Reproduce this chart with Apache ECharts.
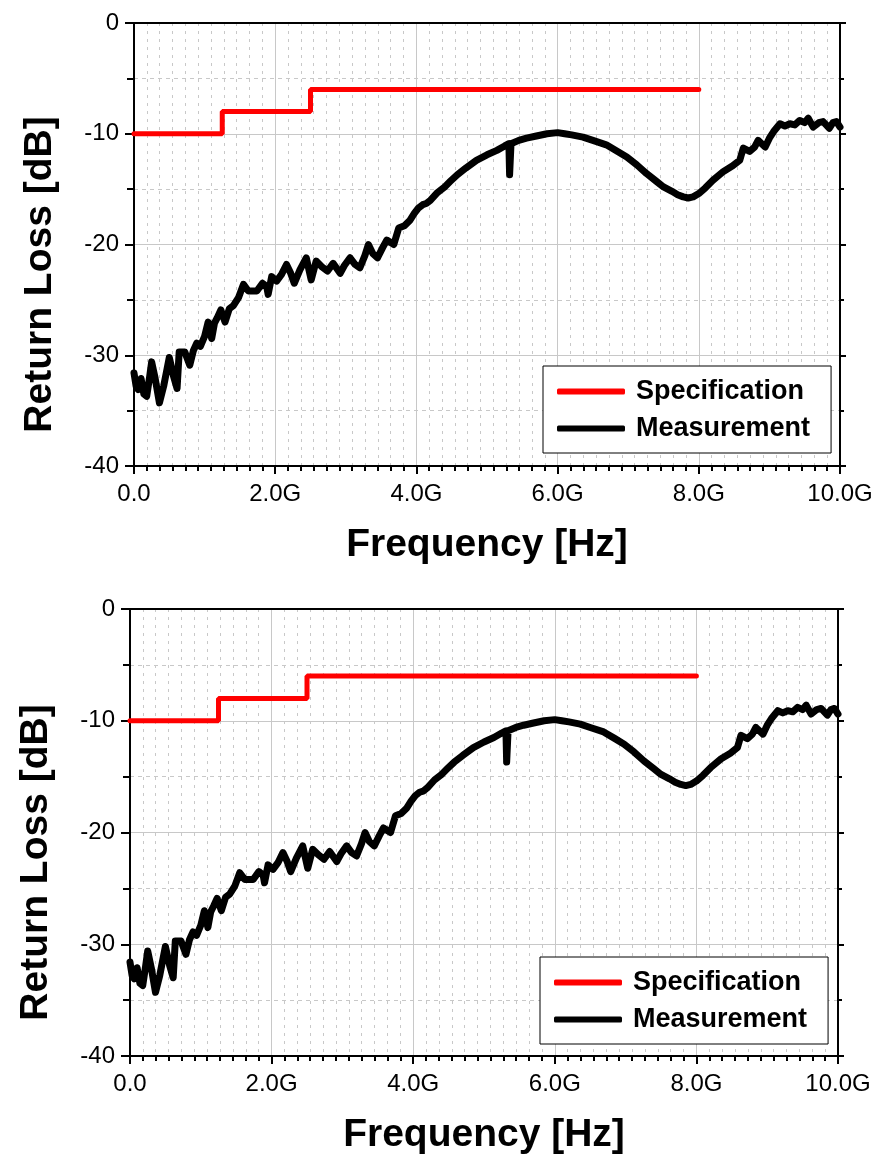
<!DOCTYPE html>
<html>
<head>
<meta charset="utf-8">
<script src="https://cdn.jsdelivr.net/npm/echarts@6/dist/echarts.min.js"></script>
<style>
  html, body { margin: 0; padding: 0; background: #fff; }
  #chart { width: 878px; height: 1156px; }
</style>
</head>
<body>
<div id="chart"></div>
<script>
// spec mask (GHz, dB)
const specFreq = [0, 1.25, 1.25, 2.5, 2.5, 8.0];
const specLevel = [-10, -10, -8, -8, -6, -6];

const measFreq = [
  0.00, 0.03, 0.06, 0.10, 0.14, 0.18, 0.22, 0.25, 0.30, 0.36,
  0.42, 0.46, 0.50, 0.56, 0.61, 0.64, 0.72, 0.79, 0.84, 0.89,
  0.94, 1.00, 1.05, 1.10, 1.14, 1.18, 1.23, 1.29, 1.35, 1.41,
  1.48, 1.55, 1.62, 1.74, 1.82, 1.88, 1.90, 1.95, 2.02, 2.09,
  2.16, 2.22, 2.27, 2.35, 2.44, 2.51, 2.58, 2.66, 2.74, 2.82,
  2.92, 2.98, 3.06, 3.13, 3.20, 3.27, 3.32, 3.38, 3.45, 3.52,
  3.58, 3.68, 3.75, 3.83, 3.91, 3.97, 4.03, 4.09, 4.14, 4.20,
  4.30, 4.40, 4.48, 4.58, 4.70, 4.85, 5.00, 5.14, 5.25, 5.31,
  5.32, 5.34, 5.45, 5.56, 5.70, 5.85, 6.00, 6.10, 6.20, 6.36,
  6.50, 6.69, 6.85, 6.98, 7.12, 7.26, 7.40, 7.50, 7.62, 7.70,
  7.78, 7.85, 7.92, 8.00, 8.09, 8.20, 8.35, 8.48, 8.58, 8.63,
  8.72, 8.79, 8.84, 8.94, 9.00, 9.06, 9.15, 9.22, 9.29, 9.36,
  9.43, 9.50, 9.55, 9.62, 9.70, 9.76, 9.85, 9.90, 9.95, 10.00
];
const measLoss = [
  -31.6, -32.8, -33.1, -32.1, -33.5, -33.7, -32.0, -30.6, -32.1, -34.3,
  -32.8, -31.5, -30.2, -31.9, -33.0, -29.7, -29.7, -30.9, -29.6, -28.9,
  -29.2, -28.3, -27.0, -28.5, -27.1, -26.6, -25.9, -27.0, -25.8, -25.5,
  -24.8, -23.6, -24.2, -24.2, -23.5, -23.8, -24.5, -22.9, -23.3, -22.7,
  -21.8, -22.6, -23.5, -22.3, -21.2, -23.2, -21.5, -22.0, -22.4, -21.7,
  -22.6, -21.9, -21.2, -21.8, -22.1, -21.0, -20.0, -20.8, -21.2, -20.3,
  -19.6, -20.0, -18.5, -18.3, -17.8, -17.2, -16.7, -16.4, -16.3, -16.0,
  -15.3, -14.8, -14.3, -13.7, -13.1, -12.4, -11.9, -11.5, -11.1, -10.9,
  -13.7, -10.9, -10.6, -10.4, -10.2, -10.0, -9.9, -10.0, -10.1, -10.3,
  -10.6, -11.0, -11.6, -12.1, -12.8, -13.6, -14.3, -14.8, -15.2, -15.5,
  -15.7, -15.8, -15.7, -15.4, -14.9, -14.2, -13.4, -12.9, -12.4, -11.3,
  -11.6, -11.2, -10.6, -11.2, -10.4, -9.8, -9.1, -9.3, -9.1, -9.2,
  -8.8, -9.0, -8.6, -9.4, -9.0, -8.9, -9.5, -9.0, -8.9, -9.4
];

const xTicks = [0, 2, 4, 6, 8, 10];
const yTicks = [0, -10, -20, -30, -40];

const FONT = '"Liberation Sans", Arial, sans-serif';
const GRID_GRAY = '#c8c8c8';

const specData = specFreq.map((f, i) => [f, specLevel[i]]);
const measData = measFreq.map((f, i) => [f, measLoss[i]]);

const panels = [
  { left: 134, top: 23, width: 706, height: 443, legendLeft: 543, legendTop: 366 },
  { left: 130, top: 609, width: 708, height: 447, legendLeft: 540, legendTop: 957 }
];

const chart = echarts.init(document.getElementById('chart'));

const grid = [];
const xAxis = [];
const yAxis = [];
const series = [];
const legend = [];

panels.forEach((p, k) => {
  grid.push({ left: p.left, top: p.top, width: p.width, height: p.height, show: false });

  // bottom axis
  xAxis.push({
    type: 'value', gridIndex: k, min: 0, max: 10, interval: 2,
    name: 'Frequency [Hz]', nameLocation: 'middle', nameGap: 60,
    nameTextStyle: { fontFamily: FONT, fontWeight: 'bold', fontSize: 39, color: '#000' },
    axisLine: { onZero: false, lineStyle: { color: '#000', width: 2 } },
    axisTick: { inside: false, length: 8, lineStyle: { color: '#000', width: 2 } },
    minorTick: { show: true, splitNumber: 11, length: 5, lineStyle: { color: '#000', width: 2 } },
    axisLabel: {
      fontFamily: FONT, fontSize: 24, color: '#000', margin: 16,
      formatter: v => xTicks.includes(v) ? (v === 0 ? '0.0' : v.toFixed(1) + 'G') : ''
    },
    splitLine: { show: true, lineStyle: { color: GRID_GRAY, width: 1 } },
    minorSplitLine: { show: true, lineStyle: { color: GRID_GRAY, width: 1, type: [3, 5] } }
  });
  // top frame line
  xAxis.push({
    type: 'value', gridIndex: k, min: 0, max: 10, position: 'top',
    axisLine: { onZero: false, lineStyle: { color: '#000', width: 2 } },
    axisTick: { show: false }, axisLabel: { show: false }, splitLine: { show: false }
  });

  yAxis.push({
    type: 'value', gridIndex: k, min: -40, max: 0, interval: 10,
    name: 'Return Loss [dB]', nameLocation: 'middle', nameGap: 74,
    // origin puts this title a bit below the middle of the axis
    nameTextStyle: { fontFamily: FONT, fontWeight: 'bold', fontSize: 39, color: '#000', padding: [0, 60, 0, 0] },
    axisLine: { show: true, onZero: false, lineStyle: { color: '#000', width: 2 } },
    axisTick: { inside: false, length: 9, lineStyle: { color: '#000', width: 2 } },
    minorTick: { show: true, splitNumber: 2, length: 7, lineStyle: { color: '#000', width: 2 } },
    axisLabel: {
      fontFamily: FONT, fontSize: 24, color: '#000', margin: 15,
      formatter: v => yTicks.includes(v) ? String(v) : ''
    },
    splitLine: { show: true, lineStyle: { color: GRID_GRAY, width: 1 } },
    minorSplitLine: { show: true, lineStyle: { color: GRID_GRAY, width: 1, type: [4, 4] } }
  });
  // right frame with outward ticks
  yAxis.push({
    type: 'value', gridIndex: k, min: -40, max: 0, interval: 10, position: 'right',
    axisLine: { show: true, onZero: false, lineStyle: { color: '#000', width: 2 } },
    axisTick: { inside: false, length: 6, lineStyle: { color: '#000', width: 2 } },
    minorTick: { show: true, splitNumber: 2, length: 4, lineStyle: { color: '#000', width: 2 } },
    axisLabel: { show: false }, splitLine: { show: false }
  });

  series.push({
    name: 'Specification', type: 'line', xAxisIndex: 2 * k, yAxisIndex: 2 * k,
    data: specData, showSymbol: false, symbol: 'none',
    lineStyle: { color: '#ff0000', width: 5, cap: 'round' },
    itemStyle: { color: '#ff0000' }, z: 3
  });
  series.push({
    name: 'Measurement', type: 'line', xAxisIndex: 2 * k, yAxisIndex: 2 * k,
    data: measData, showSymbol: false, symbol: 'none',
    lineStyle: { color: '#000', width: 7, cap: 'round', join: 'round' },
    itemStyle: { color: '#000' }, z: 4
  });

  legend.push({
    orient: 'vertical', left: p.legendLeft, top: p.legendTop,
    data: ['Specification', 'Measurement'],
    icon: 'roundRect', itemWidth: 68, itemHeight: 6, itemGap: 10,
    padding: [12, 21, 11, 14],
    borderColor: '#000', borderWidth: 1, backgroundColor: '#fff',
    textStyle: { fontFamily: FONT, fontWeight: 'bold', fontSize: 27, color: '#000', padding: [0, 0, 0, 6] },
    selectedMode: false
  });
});

chart.setOption({
  animation: false,
  backgroundColor: '#fff',
  grid, xAxis, yAxis, series, legend
});

window.addEventListener('resize', () => chart.resize());
</script>
</body>
</html>
